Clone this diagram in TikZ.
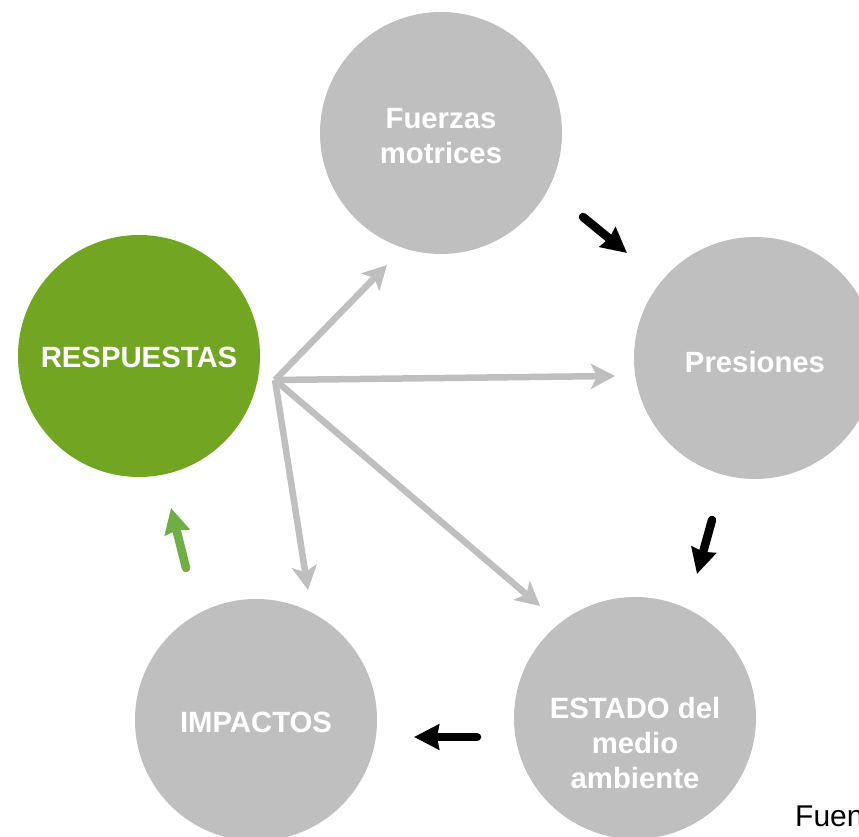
\documentclass[tikz,border=0pt]{standalone}
\usepackage{fontspec}
\setmainfont{Liberation Sans}
\usetikzlibrary{arrows.meta}
\definecolor{cgray}{RGB}{191,191,191}
\definecolor{cgreen}{RGB}{114,166,34}
\definecolor{agreen}{RGB}{112,173,71}
\begin{document}
\begin{tikzpicture}[x=1pt,y=1pt,
  bubble/.style={circle, fill=cgray, minimum size=242pt, inner sep=0pt},
  lbl/.style={text=white, font=\bfseries\fontsize{29.3}{35}\selectfont, align=center, inner sep=0pt},
  grayarrow/.style={draw=cgray, line width=6.5pt, -{Stealth[length=24pt, width=25pt, inset=6pt]}},
  blackarrow/.style={draw=black, line width=8.5pt, line cap=round, -{Stealth[length=25pt, width=25pt, inset=2pt]}},
  greenarrow/.style={draw=agreen, line width=8.5pt, line cap=round, -{Stealth[length=25pt, width=25pt, inset=2pt]}}
]
\useasboundingbox (0,0) rectangle (859,836);
\node[bubble] (fm) at (441,703) {};
\node[bubble] (pr) at (755,478) {};
\node[bubble] (es) at (635,118) {};
\node[bubble] (im) at (256,116) {};
\node[bubble, fill=cgreen] (re) at (139,480) {};
\node[lbl] (fmtxt) at (441,700) {Fuerzas\\motrices};
\node[lbl] (prtxt) at (755,474) {Presiones};
\node[lbl] (estxt) at (635,93) {ESTADO del\\medio\\ambiente};
\node[lbl] (imtxt) at (256,114) {IMPACTOS};
\node[lbl] (retxt) at (139,479) {RESPUESTAS};
\coordinate (hub) at (275,456);
\coordinate (g1) at (387,571);
\coordinate (g2) at (615,460);
\coordinate (g3) at (540,230);
\coordinate (g4) at (308,246);
\draw[grayarrow] (hub) -- (g1);
\draw[grayarrow] (hub) -- (g2);
\draw[grayarrow] (hub) -- (g3);
\draw[grayarrow] (hub) -- (g4);
\coordinate (b1s) at (583,619);
\coordinate (b1e) at (627,583);
\coordinate (b2s) at (712,316);
\coordinate (b2e) at (697,262);
\coordinate (b3s) at (477,99);
\coordinate (b3e) at (414,99);
\coordinate (gs) at (186,268);
\coordinate (ge) at (171,328);
\draw[blackarrow] (b1s) -- (b1e);
\draw[blackarrow] (b2s) -- (b2e);
\draw[blackarrow] (b3s) -- (b3e);
\draw[greenarrow] (gs) -- (ge);
\node[anchor=base west, inner sep=0pt, font=\fontsize{30}{36}\selectfont] (src) at (795,10) {Fuente};
\end{tikzpicture}
\end{document}
